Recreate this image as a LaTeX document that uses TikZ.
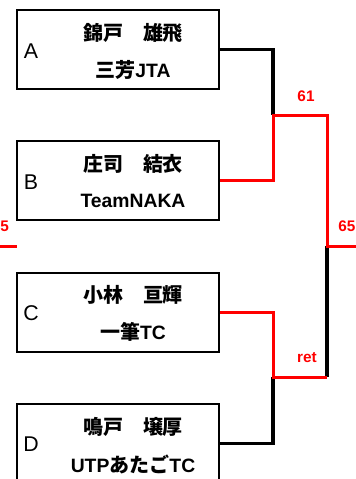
\documentclass[tikz,border=0pt]{standalone}
\usepackage{fontspec}
\setmainfont{Liberation Sans}
\newfontfamily\jp{Noto Sans CJK JP}
\tikzset{
 entry/.style={draw=black, line width=1.5pt, minimum width=151.5pt, minimum height=59.25pt, inner sep=0pt},
 nm/.style={font=\fontsize{15}{18}\selectfont\bfseries},
 tm/.style={font=\fontsize{14.5}{18}\selectfont\bfseries},
 lt/.style={font=\fontsize{16}{18}\selectfont},
 blk/.style={line width=2.5pt, black},
 win/.style={line width=2.25pt, red},
 score/.style={text=red, font=\fontsize{11.5}{13}\selectfont\bfseries},
}
\begin{document}
\begin{tikzpicture}[x=0.75pt,y=-0.75pt]
\clip (0,0) rectangle (356,479);
% boxes
\node[entry] (boxA) at (118,49.5) {};
\node[entry] (boxB) at (118,180.5) {};
\node[entry] (boxC) at (118,312) {};
\node[entry] (boxD) at (118,443.5) {};
% letters
\node[lt] (lA) at (31,51) {A};
\node[lt] (lB) at (31,182) {B};
\node[lt] (lC) at (31,313) {C};
\node[lt] (lD) at (31,444) {D};
% names and teams
\node[nm] (nA) at (133,33) {\jp\bfseries 錦戸　雄飛};
\node[tm] (tA) at (133,70) {{\jp\bfseries\fontsize{15}{18}\selectfont 三芳}JTA};
\node[nm] (nB) at (133,164) {\jp\bfseries 庄司　結衣};
\node[tm] (tB) at (133,201) {TeamNAKA};
\node[nm] (nC) at (133,295) {\jp\bfseries 小林　亘輝};
\node[tm] (tC) at (133,332) {{\jp\bfseries\fontsize{15}{18}\selectfont 一筆}TC};
\node[nm] (nD) at (133,427) {\jp\bfseries 鳴戸　壌厚};
\node[tm] (tD) at (133,464) {UTP{\jp\bfseries\fontsize{15}{18}\selectfont あたご}TC};
% junctions
\coordinate (j1) at (273,115);
\coordinate (j2) at (273,377);
\coordinate (f1) at (327,246);
\coordinate (f2) at (327,377);
\coordinate (outR) at (356,246);
\coordinate (outL) at (0,246);
\coordinate (inL) at (17,246);
% black (losing) lines
\draw[blk] (boxA.east) -| (j1);
\draw[blk] (boxD.east) -| (j2);
\draw[blk] (f1) -- (f2);
% red (winning) lines
\draw[win] (boxB.east) -| (j1) -| (f1) -- (outR);
\draw[win] (boxC.east) -| (j2) -- (f2);
\draw[win] (outL) -- (inL);
% scores
\node[score] (s61) at (306,96) {61};
\node[score] (s65) at (347,226) {65};
\node[score, anchor=west, inner sep=0pt] (s5) at (0,226) {5};
\node[score] (sret) at (307,358) {ret};
\end{tikzpicture}
\end{document}
